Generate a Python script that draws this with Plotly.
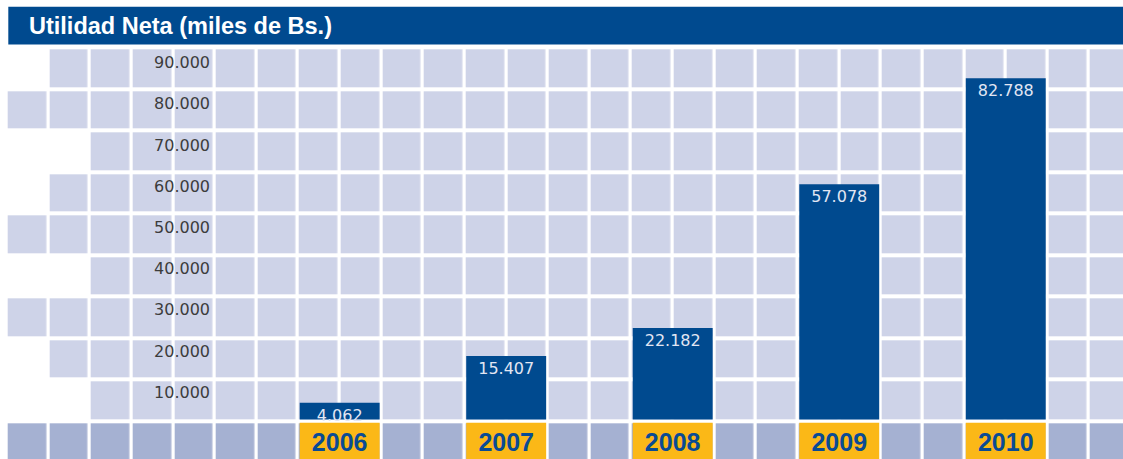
import plotly.graph_objects as go

# ---------------- data ----------------
years = ["2006", "2007", "2008", "2009", "2010"]
utilidad = [4062, 15407, 22182, 57078, 82788]
tick_values = [10000, 20000, 30000, 40000, 50000, 60000, 70000, 80000, 90000]
title_text = "Utilidad Neta (miles de Bs.)"

# ---------------- layout constants (pixels) ----------------
W, H = 1123, 459
COL_PITCH = 41.63
COL0_LEFT = 8.3
CELL_W = 38.3
N_COLS = 27
ROW_PITCH = 41.5
ROW0_TOP = 49.3
CELL_H = 37.5
N_ROWS = 10
ROW_FIRST_COL = [1, 0, 2, 1, 0, 2, 0, 1, 2, 0]   # first visible cell in each row
ZERO_PX = 419.4
PX_PER_UNIT = 41.2 / 10000
BAR_FIRST_COL = 7
BAR_COL_STEP = 4

BLUE = "#004a8f"
LIGHT = "#ced3e8"
DARK = "#a5b1d2"
YELLOW = "#fbb817"
BOLDFONT = "Liberation Sans, Arial, sans-serif"


def px_to_x(px):
    return (px - (COL0_LEFT + CELL_W / 2)) / COL_PITCH


def py_to_y(py):
    return (ZERO_PX - py) / PX_PER_UNIT


# background grid as heatmap
grid_x = list(range(N_COLS))
rows = list(range(N_ROWS))[::-1]  # bottom row first (increasing y)
grid_y = [py_to_y(ROW0_TOP + CELL_H / 2 + r * ROW_PITCH) for r in rows]
grid_z = [[(None if c < ROW_FIRST_COL[r] else (1 if r == N_ROWS - 1 else 0)) for c in grid_x] for r in rows]

fig = go.Figure()
fig.add_trace(go.Heatmap(
    x=grid_x, y=grid_y, z=grid_z,
    colorscale=[[0, LIGHT], [1, DARK]], zmin=0, zmax=1, showscale=False,
    xgap=COL_PITCH - CELL_W, ygap=ROW_PITCH - CELL_H, hoverinfo="skip",
))

bar_x = [BAR_FIRST_COL + 0.5 + BAR_COL_STEP * i for i in range(len(years))]
bar_w = (COL_PITCH + CELL_W) / COL_PITCH

fig.add_trace(go.Bar(
    x=bar_x, y=utilidad, width=bar_w, marker=dict(color=BLUE, line=dict(width=0)),
    texttemplate="%{y:,d}", textposition="inside", insidetextanchor="end",
    constraintext="none",
    textfont=dict(family="DejaVu Sans", size=16, color="#e2e6f3"),
    hoverinfo="skip",
))

ybase = py_to_y(ROW0_TOP + (N_ROWS - 1) * ROW_PITCH)
ytop = py_to_y(ROW0_TOP + (N_ROWS - 1) * ROW_PITCH + CELL_H)
fig.add_trace(go.Bar(
    x=bar_x, y=[ytop - ybase] * len(years), base=ybase, width=bar_w,
    marker=dict(color=YELLOW, line=dict(width=0)),
    text=years, textposition="inside", insidetextanchor="middle", constraintext="none",
    textfont=dict(family=BOLDFONT, size=25, color="#0a4b94", weight="bold"),
    hoverinfo="skip",
))

fig.add_shape(type="rect", xref="paper", yref="paper",
              x0=COL0_LEFT / W, x1=1, y0=1 - 44.5 / H, y1=1 - 6.7 / H,
              fillcolor=BLUE, line=dict(width=0), layer="below")

fig.update_layout(
    width=W, height=H,
    margin=dict(l=0, r=0, t=0, b=0),
    paper_bgcolor="white", plot_bgcolor="white",
    showlegend=False, barmode="overlay", separators=",.",
    title=dict(text=title_text, x=29 / W, xanchor="left", y=1 - 26 / H, yanchor="middle",
               font=dict(family=BOLDFONT, size=23.5, color="white", weight="bold")),
    xaxis=dict(range=[px_to_x(0), px_to_x(W)], visible=False, fixedrange=True),
    yaxis=dict(range=[py_to_y(H), py_to_y(0)], tickvals=tick_values, tickformat=",d",
               showgrid=False, zeroline=False, showline=False, ticks="",
               anchor="free", position=210 / W, ticklabelshift=14,
               tickfont=dict(family="DejaVu Sans", size=16, color="#3c3c3c"),
               fixedrange=True),
)

fig.write_html("out.html", config={"displayModeBar": False},
               post_script="document.body.style.margin='0';")
